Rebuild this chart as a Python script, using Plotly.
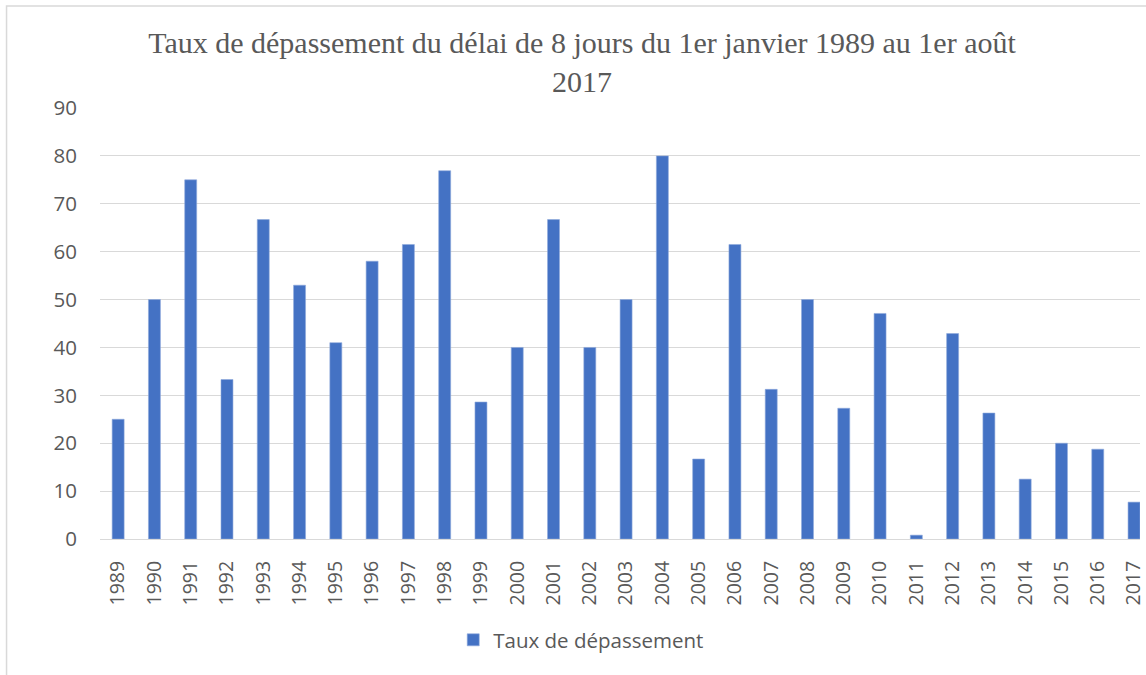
import plotly.graph_objects as go

years = [str(y) for y in range(1989, 2018)]
values = [25.0, 50.0, 75.0, 33.3, 66.7, 53.0, 41.0, 58.0, 61.5, 76.9,
          28.6, 40.0, 66.7, 40.0, 50.0, 80.0, 16.7, 61.5, 31.25, 50.0,
          27.3, 47.1, 0.8, 42.9, 26.3, 12.5, 20.0, 18.75, 7.7]
series_name = "Taux de dépassement"
title_text = "Taux de dépassement du délai de 8 jours du 1er janvier 1989 au 1er août<br>2017"

W, H = 1146, 675
ML, MR, MT, MB = 100, 0, 108, 136
PW, PH = W - ML - MR, H - MT - MB

fig = go.Figure()
fig.add_trace(go.Bar(x=years, y=values, name=series_name,
                     marker=dict(color="#4472C4", line=dict(width=0.6, color="#8fa9dc")),
                     showlegend=True))

fig.update_layout(
    width=W, height=H,
    margin=dict(l=ML, r=MR, t=MT, b=MB),
    paper_bgcolor="white", plot_bgcolor="white",
    bargap=0.67,
    title=dict(text=title_text, x=582 / W, xanchor="center", xref="container",
               y=1 - 53 / H, yanchor="top", yref="container",
               font=dict(family="Liberation Serif", size=30, color="#595959")),
    font=dict(family="Open Sans", color="#595959", size=20),
    xaxis=dict(type="category", range=[-0.5, (W - 118) / 36.5], tickangle=-90,
               showgrid=False, zeroline=False, showline=False,
               tickfont=dict(size=19.5, color="#595959"), ticks="", ticklabelstandoff=17),
    yaxis=dict(range=[0, 90], dtick=10, showgrid=True, gridcolor="#d9d9d9", gridwidth=1.3,
               zeroline=True, zerolinecolor="#d9d9d9", zerolinewidth=1.3, showline=False,
               tickfont=dict(size=20.5, color="#595959"), ticks="", ticklabelstandoff=22),
    legend=dict(orientation="h", x=(584 - ML) / PW, xanchor="center",
                y=(539 - 640) / PH, yanchor="middle",
                font=dict(size=20.5, color="#595959"), itemwidth=30),
    shapes=[dict(type="rect", xref="paper", yref="paper",
                 x0=(6 - ML) / PW, x1=1.05, y0=-0.5, y1=(539 - 6) / PH,
                 line=dict(color="#d9d9d9", width=1.5), layer="below")],
)

fig.write_html("out.html", config={"displayModeBar": False},
               post_script="document.body.style.margin='0';document.body.style.overflow='hidden';")
